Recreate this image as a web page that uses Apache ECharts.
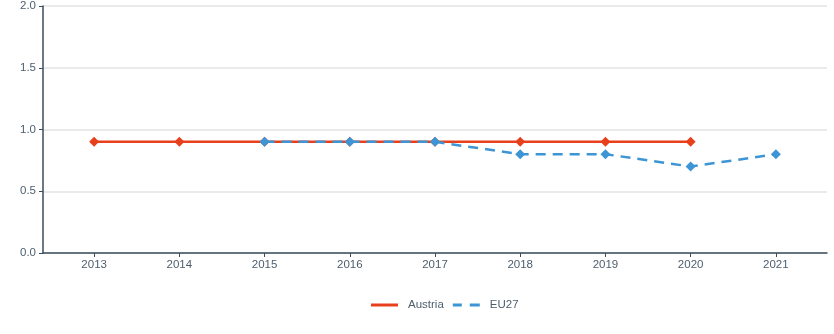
<!DOCTYPE html>
<html>
<head>
<meta charset="utf-8">
<script src="https://cdn.jsdelivr.net/npm/echarts@6/dist/echarts.min.js"></script>
<style>
  html, body { margin: 0; padding: 0; background: #fff; }
  #chart { width: 834px; height: 334px; }
</style>
</head>
<body>
<div id="chart"></div>
<script>
// Years shown on the horizontal axis
const years = [2013, 2014, 2015, 2016, 2017, 2018, 2019, 2020, 2021];
// Austria values (2013–2020)
const austriaYears = [2013, 2014, 2015, 2016, 2017, 2018, 2019, 2020];
const austriaValues = [0.9, 0.9, 0.9, 0.9, 0.9, 0.9, 0.9, 0.9];
// EU27 values (2015–2021)
const eu27Years = [2015, 2016, 2017, 2018, 2019, 2020, 2021];
const eu27Values = [0.9, 0.9, 0.9, 0.8, 0.8, 0.7, 0.8];

const pair = (xs, ys) => xs.map((x, i) => [x, ys[i]]);

const axisColor = '#3b4d5c';
const labelColor = '#4d5e6e';
const font = 'Arial, "Liberation Sans", sans-serif';

const chart = echarts.init(document.getElementById('chart'), null, { renderer: 'canvas' });
chart.setOption({
  animation: false,
  grid: { left: 43, right: 7, top: 6, bottom: 81 },
  legend: {
    bottom: 18,
    left: 366,
    itemWidth: 27,
    itemHeight: 3,
    itemGap: 9,
    textStyle: { color: labelColor, fontSize: 11.5, fontFamily: font, padding: [0, 0, 0, 5] },
    data: [
      { name: 'Austria', icon: 'rect', itemStyle: { color: '#e8401c' } },
      { name: 'EU27', icon: 'path://M0,0H9V3H0Z M17,0H27V3H17Z', itemStyle: { color: '#3d95d5' } }
    ]
  },
  xAxis: {
    type: 'value',
    min: 2012.4,
    max: 2021.6,
    axisLine: { show: true, lineStyle: { color: axisColor, width: 1.5 } },
    axisTick: { show: true, customValues: years, length: 4, lineStyle: { color: axisColor } },
    axisLabel: {
      customValues: years,
      color: labelColor, fontSize: 11.5, fontFamily: font, margin: 6,
      formatter: v => String(Math.round(v))
    },
    splitLine: { show: false }
  },
  yAxis: {
    type: 'value',
    min: 0,
    max: 2,
    interval: 0.5,
    axisLine: { show: true, lineStyle: { color: axisColor, width: 1.5 } },
    axisTick: { show: true, length: 4, lineStyle: { color: axisColor } },
    axisLabel: {
      color: labelColor, fontSize: 11.5, fontFamily: font, margin: 7,
      formatter: v => v.toFixed(1)
    },
    splitLine: { show: true, lineStyle: { color: '#e3e3e3', width: 1.5 } }
  },
  series: [
    {
      name: 'Austria',
      type: 'line',
      data: pair(austriaYears, austriaValues),
      symbol: 'diamond',
      symbolSize: 10,
      lineStyle: { color: '#e8401c', width: 2.5 },
      itemStyle: { color: '#e8401c' },
      z: 2
    },
    {
      name: 'EU27',
      type: 'line',
      data: pair(eu27Years, eu27Values),
      symbol: 'diamond',
      symbolSize: 10,
      lineStyle: { color: '#3d95d5', width: 2.5, type: [10, 7] },
      itemStyle: { color: '#3d95d5' },
      z: 3
    }
  ]
});
</script>
</body>
</html>
